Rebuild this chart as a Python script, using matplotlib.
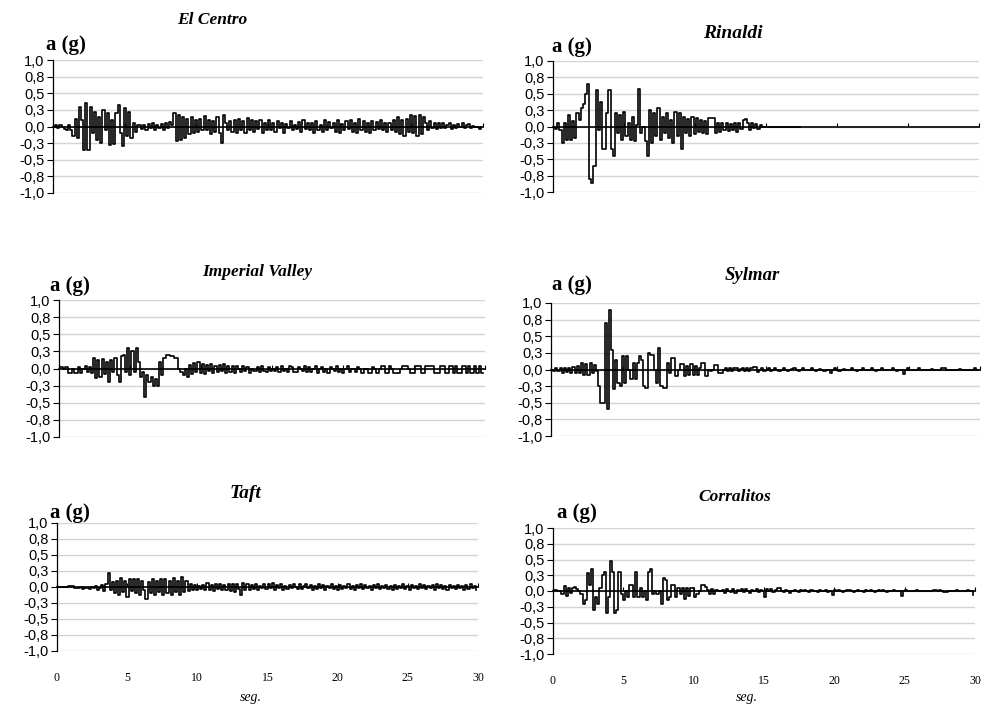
"""Ground-acceleration records (0-30 s) for six stations, drawn as a 3x2 grid of traces."""
import numpy as np
import matplotlib
matplotlib.use("Agg")
import matplotlib.pyplot as plt

W, H = 982, 713          # output size in pixels (dpi 100)
DT = 0.15                # seconds between stored samples

# acceleration in g, one value every DT seconds
EL_CENTRO = [
    0.0, 0.02, -0.02, 0.03, 0.0, -0.04, -0.05, 0.02, -0.06, -0.15,
    0.12, -0.18, 0.3, 0.1, -0.35, 0.36, -0.35, 0.3, -0.1, 0.22,
    -0.2, 0.15, -0.25, 0.25, -0.05, 0.2, -0.28, 0.1, -0.26, 0.2,
    0.33, -0.1, -0.3, 0.28, -0.15, 0.22, -0.18, 0.05, -0.08, 0.03,
    0.02, -0.04, 0.03, -0.05, 0.04, -0.02, 0.05, -0.05, 0.03, -0.03,
    0.04, -0.06, 0.06, -0.02, 0.07, 0.03, 0.2, -0.22, 0.18, -0.2,
    0.15, -0.18, 0.12, -0.12, 0.14, -0.1, 0.1, -0.08, 0.12, -0.06,
    0.16, -0.05, 0.1, -0.12, 0.08, -0.08, 0.15, -0.1, -0.25, 0.17,
    0.05, -0.06, 0.08, -0.08, 0.1, -0.1, 0.12, -0.05, 0.08, -0.1,
    0.13, -0.06, 0.1, -0.08, 0.09, -0.04, 0.1, -0.1, 0.06, -0.05,
    0.1, -0.06, 0.05, -0.08, 0.08, -0.03, 0.05, -0.1, 0.04, -0.02,
    0.08, -0.06, 0.03, -0.04, 0.07, -0.08, 0.1, -0.04, 0.05, -0.06,
    0.06, -0.1, 0.08, -0.05, 0.03, -0.08, 0.1, -0.06, 0.07, -0.03,
    0.05, -0.08, 0.1, -0.1, 0.04, -0.06, 0.08, -0.04, 0.1, -0.08,
    0.05, -0.1, 0.12, -0.05, 0.08, -0.08, 0.06, -0.1, 0.09, -0.05,
    0.07, -0.04, 0.1, -0.06, 0.05, -0.08, 0.06, -0.05, 0.1, -0.08,
    0.15, -0.12, 0.1, -0.14, 0.12, -0.08, 0.18, -0.1, 0.16, -0.15,
    0.18, -0.12, 0.15, 0.05, -0.06, 0.08, -0.03, 0.05, -0.04, 0.06,
    -0.02, 0.05, -0.03, 0.02, 0.06, -0.04, 0.03, -0.02, 0.04, 0.0,
    0.05, -0.03, 0.02, 0.04, -0.02, 0.01, 0.0, 0.0, -0.04, 0.0,
]
RINALDI = [
    0.0, -0.04, 0.05, -0.06, -0.25, 0.05, -0.2, 0.18, -0.2, 0.08,
    -0.18, 0.2, 0.1, 0.28, 0.35, 0.5, 0.65, -0.8, -0.87, -0.6,
    0.55, -0.05, 0.38, -0.35, -0.35, 0.2, 0.55, -0.35, -0.45, 0.2,
    -0.1, 0.18, -0.2, 0.22, -0.15, 0.05, -0.2, 0.15, -0.22, 0.03,
    0.58, -0.1, 0.0, -0.22, -0.45, 0.25, -0.25, 0.2, -0.15, 0.28,
    -0.2, 0.15, -0.1, 0.2, -0.18, 0.1, -0.25, 0.22, -0.15, 0.2,
    -0.35, 0.15, -0.1, 0.12, -0.15, 0.15, -0.12, 0.13, -0.08, 0.1,
    -0.1, 0.08, -0.12, 0.13, 0.13, 0.13, -0.1, 0.05, -0.08, 0.06,
    -0.05, 0.06, -0.07, 0.04, -0.06, 0.05, -0.08, 0.06, -0.04, 0.1,
    0.12, 0.05, -0.05, 0.06, -0.03, 0.04, -0.04, 0.02, 0.0, 0.0,
    0.0, 0.0, 0.0, 0.0, 0.0, 0.0, 0.0, 0.0, 0.0, 0.0,
    0.0, 0.0, 0.0, 0.0, 0.0, 0.0, 0.0,
]
IMPERIAL_VALLEY = [
    0.02, 0.02, 0.0, 0.02, -0.06, -0.06, 0.0, -0.06, -0.06, 0.02,
    -0.06, 0.0, 0.03, -0.05, 0.02, -0.06, 0.15, -0.14, 0.12, -0.12,
    0.14, -0.08, 0.1, -0.2, 0.12, -0.05, 0.15, -0.1, -0.2, 0.18,
    0.2, -0.05, 0.3, -0.1, 0.25, -0.05, 0.3, 0.1, -0.12, -0.05,
    -0.42, -0.1, -0.2, -0.12, -0.25, -0.15, -0.26, 0.1, -0.1, 0.15,
    0.2, 0.2, 0.18, 0.18, 0.15, 0.15, 0.0, -0.05, -0.1, 0.0,
    -0.12, 0.05, -0.08, 0.08, -0.05, 0.1, -0.06, 0.06, -0.08, 0.05,
    -0.04, 0.06, -0.06, 0.04, -0.05, 0.05, -0.03, 0.06, -0.07, 0.03,
    -0.05, 0.04, -0.06, 0.03, 0.0, -0.05, 0.03, -0.04, 0.02, -0.06,
    0.0, -0.04, -0.04, 0.02, -0.05, 0.03, -0.03, -0.05, 0.02, -0.03,
    0.0, -0.04, 0.02, -0.05, 0.04, -0.03, 0.0, -0.05, 0.03, 0.02,
    -0.05, -0.05, 0.02, 0.0, -0.04, 0.03, -0.05, 0.02, -0.05, 0.0,
    0.03, -0.06, 0.0, 0.02, -0.05, 0.0, -0.06, 0.02, 0.0, -0.04,
    0.03, -0.05, 0.0, -0.06, 0.0, 0.03, -0.05, 0.0, 0.0, -0.05,
    0.02, 0.0, -0.06, 0.0, 0.0, -0.06, -0.06, 0.02, 0.0, -0.06,
    0.0, 0.04, 0.04, -0.06, -0.06, 0.03, 0.0, -0.06, -0.06, -0.06,
    0.0, 0.04, 0.04, 0.04, 0.0, -0.07, -0.07, 0.04, 0.04, 0.04,
    -0.07, -0.07, 0.04, 0.04, 0.04, 0.04, -0.07, -0.07, -0.07, 0.04,
    0.04, -0.07, -0.07, 0.04, 0.04, -0.07, 0.04, -0.07, -0.07, 0.04,
    0.04, -0.07, 0.04, -0.07, -0.07, 0.04, -0.07, 0.04, -0.07, -0.07,
]
SYLMAR = [
    0.0, -0.02, 0.02, -0.03, 0.02, -0.05, 0.03, -0.04, 0.02, -0.05,
    0.04, -0.05, 0.05, -0.06, 0.1, -0.08, 0.08, -0.08, 0.1, -0.05,
    0.07, -0.02, -0.25, -0.5, -0.5, 0.7, -0.6, 0.9, 0.3, -0.3,
    0.15, -0.2, -0.25, 0.2, -0.2, 0.2, 0.0, -0.15, 0.1, -0.15,
    0.1, 0.2, 0.15, -0.25, -0.28, 0.25, 0.22, 0.22, 0.0, -0.2,
    0.33, -0.25, -0.28, -0.28, 0.1, -0.05, 0.18, 0.18, -0.1, 0.0,
    0.08, 0.08, -0.1, 0.05, -0.08, 0.08, -0.08, 0.05, -0.08, 0.03,
    0.1, 0.1, -0.1, 0.0, -0.03, 0.0, 0.07, 0.07, -0.05, -0.05,
    0.0, 0.02, -0.03, 0.03, -0.02, 0.03, 0.03, -0.03, 0.01, 0.03,
    -0.02, 0.03, -0.03, 0.02, 0.04, 0.04, -0.04, 0.0, 0.02, -0.02,
    0.0, 0.02, -0.02, 0.0, 0.02, 0.0, -0.02, 0.0, 0.02, 0.0,
    -0.02, 0.0, 0.01, 0.02, 0.0, -0.02, 0.0, 0.02, 0.0, -0.01,
    0.0, 0.02, 0.0, -0.02, 0.0, 0.01, 0.0, -0.02, 0.0, 0.0,
    -0.06, 0.0, 0.02, 0.0, -0.02, 0.0, 0.01, 0.0, -0.01, 0.0,
    0.02, 0.0, -0.02, 0.0, 0.0, 0.02, 0.0, -0.01, 0.0, 0.02,
    0.0, -0.02, 0.0, 0.0, 0.02, 0.0, -0.01, 0.0, 0.0, 0.02,
    0.0, -0.02, 0.0, 0.0, -0.07, 0.0, 0.02, 0.0, -0.01, 0.0,
    0.0, 0.02, 0.0, 0.0, -0.01, 0.0, 0.0, 0.01, 0.0, 0.0,
    0.0, 0.0, 0.02, 0.03, 0.0, 0.0, -0.01, 0.0, 0.0, 0.0,
    0.01, 0.0, 0.0, 0.0, 0.0, -0.01, 0.0, 0.02, 0.0, 0.0,
]
TAFT = [
    0.0, 0.0, 0.0, 0.0, 0.0, 0.02, 0.02, 0.01, -0.02, -0.01,
    -0.02, 0.0, -0.03, -0.01, -0.02, -0.03, 0.0, -0.02, 0.01, -0.04,
    -0.02, 0.03, -0.06, 0.05, 0.22, -0.04, 0.08, -0.1, 0.1, -0.12,
    0.14, -0.08, 0.1, -0.15, 0.12, -0.06, 0.13, -0.1, 0.12, -0.13,
    0.1, -0.05, -0.18, 0.08, -0.1, 0.12, -0.12, 0.1, -0.08, 0.12,
    -0.12, 0.13, -0.1, 0.1, -0.13, 0.14, -0.08, 0.1, -0.12, 0.15,
    -0.08, 0.1, -0.06, 0.05, -0.05, 0.03, -0.04, 0.02, -0.03, 0.03,
    -0.05, 0.06, -0.04, 0.03, -0.06, 0.05, -0.03, 0.04, -0.05, 0.03,
    -0.04, 0.05, -0.06, 0.04, -0.08, 0.05, -0.03, -0.12, 0.06, -0.04,
    0.04, -0.05, 0.03, -0.03, 0.04, -0.04, 0.02, -0.02, 0.05, -0.03,
    0.05, -0.02, 0.07, -0.05, 0.03, -0.02, 0.04, -0.04, 0.02, -0.03,
    0.03, -0.02, 0.05, 0.0, -0.03, 0.04, -0.03, 0.02, 0.05, -0.02,
    0.03, -0.04, 0.02, -0.03, 0.04, -0.02, 0.03, -0.04, 0.02, -0.02,
    0.04, -0.03, 0.02, -0.04, 0.03, -0.03, 0.02, -0.02, 0.04, -0.03,
    0.02, -0.04, 0.03, -0.02, 0.04, -0.03, 0.03, -0.02, 0.02, -0.04,
    0.03, -0.02, 0.04, -0.03, 0.02, -0.02, 0.03, -0.03, 0.02, -0.04,
    0.03, -0.03, 0.02, -0.02, 0.04, -0.03, 0.02, -0.04, 0.03, -0.02,
    0.02, -0.03, 0.04, -0.02, 0.03, -0.03, 0.02, -0.02, 0.03, -0.04,
    0.04, -0.02, 0.03, -0.03, 0.02, -0.04, 0.03, -0.02, 0.02, -0.03,
    0.03, -0.02, 0.02, -0.04, 0.03, -0.03, 0.04, -0.02, 0.02, -0.05,
]
CORRALITOS = [
    0.02, 0.02, 0.0, 0.0, -0.05, 0.08, -0.08, 0.05, -0.03, 0.05,
    0.07, 0.03, 0.0, -0.05, -0.2, -0.15, 0.28, 0.1, 0.35, -0.3,
    -0.1, -0.2, 0.05, 0.25, 0.3, -0.35, -0.1, 0.48, 0.3, -0.35,
    -0.3, 0.3, -0.05, -0.15, 0.0, -0.1, 0.1, 0.1, -0.1, 0.3,
    -0.1, 0.05, -0.1, 0.0, -0.15, 0.3, 0.35, -0.05, 0.0, -0.05,
    0.0, -0.2, 0.2, 0.18, -0.15, -0.1, 0.1, 0.1, -0.1, 0.05,
    -0.05, 0.05, -0.12, 0.05, -0.08, 0.05, 0.05, -0.1, -0.05, 0.0,
    0.1, 0.1, 0.06, 0.02, -0.05, 0.03, -0.05, 0.02, 0.0, 0.0,
    0.02, -0.03, 0.03, 0.0, -0.02, 0.03, -0.03, 0.02, 0.0, 0.03,
    -0.02, 0.03, 0.0, -0.03, 0.02, 0.0, 0.03, -0.02, 0.02, 0.0,
    -0.1, 0.03, 0.0, 0.03, -0.02, 0.02, 0.05, 0.05, 0.0, -0.02,
    0.02, 0.0, -0.03, 0.0, 0.02, 0.0, -0.02, 0.01, 0.0, 0.02,
    0.0, -0.02, 0.02, 0.0, 0.0, -0.02, 0.02, 0.0, 0.0, 0.02,
    -0.02, 0.0, -0.06, 0.02, 0.0, 0.02, 0.0, -0.02, 0.0, 0.02,
    0.02, 0.0, -0.02, 0.0, 0.02, 0.0, 0.0, -0.02, 0.02, 0.0,
    0.02, 0.0, -0.01, 0.0, 0.02, 0.0, 0.02, 0.0, -0.02, 0.0,
    0.0, 0.02, 0.0, 0.0, 0.0, -0.08, 0.0, 0.02, 0.0, 0.0,
    0.0, 0.0, 0.02, 0.0, 0.0, 0.0, 0.0, 0.0, 0.0, 0.0,
    0.02, 0.02, 0.0, 0.02, 0.0, -0.02, -0.02, 0.0, 0.0, 0.0,
    0.0, 0.02, 0.0, 0.0, 0.0, 0.0, 0.02, 0.0, 0.0, -0.06,
]

STATIONS = ["El Centro", "Rinaldi", "Imperial Valley", "Sylmar", "Taft", "Corralitos"]
RECORDS = [EL_CENTRO, RINALDI, IMPERIAL_VALLEY, SYLMAR, TAFT, CORRALITOS]

YTICKS = [-1.0, -0.75, -0.5, -0.25, 0.0, 0.25, 0.5, 0.75, 1.0]
YTICK_LABELS = ["-1,0", "-0,8", "-0,5", "-0,3", "0,0", "0,3", "0,5", "0,8", "1,0"]
XTICKS = [0, 5, 10, 15, 20, 25, 30]

# pixel layout: plot box (left, top, right, bottom), title centre + size, "a (g)" left/centre-y
LAYOUT = {
    "El Centro":       dict(box=(53, 60, 483, 193), title=(212, 20, 12.5), ylab=(46, 45), xlabels=False),
    "Rinaldi":         dict(box=(553, 61, 979, 192), title=(733, 34, 14), ylab=(552, 47), xlabels=False),
    "Imperial Valley": dict(box=(59, 300, 485, 437), title=(257, 272, 12.5), ylab=(50, 286), xlabels=False),
    "Sylmar":          dict(box=(551, 303, 980, 436), title=(752, 275, 13.5), ylab=(552, 285), xlabels=False),
    "Taft":            dict(box=(57, 523, 478, 651), title=(245, 493, 14), ylab=(50, 513), xlabels=True),
    "Corralitos":      dict(box=(553, 528, 975, 654), title=(735, 497, 12.5), ylab=(557, 513), xlabels=True),
}
SERIF = "Liberation Serif"
SANS = "Liberation Sans"


def fx(px):
    return px / W


def fy(py):
    return 1 - py / H


fig = plt.figure(figsize=(W / 100, H / 100), dpi=100)

for name, vals in zip(STATIONS, RECORDS):
    lay = LAYOUT[name]
    l, t, r, b = lay["box"]
    ax = fig.add_axes([fx(l), fy(b), (r - l) / W, (b - t) / H])
    acc = np.asarray(vals)
    time = np.arange(len(acc)) * DT

    # sample-and-hold trace, as the digitised record is stored
    ax.plot(time, acc, color="black", lw=1.2, drawstyle="steps-post", zorder=3)
    ax.set_xlim(0, 30)
    ax.set_ylim(-1, 1)

    ax.set_yticks(YTICKS)
    ax.set_yticklabels(YTICK_LABELS, fontfamily=SANS, fontsize=10.5)
    ax.yaxis.grid(True, color="#d4d4d4", lw=1.0)
    ax.set_axisbelow(True)
    ax.tick_params(axis="y", direction="out", length=4, width=0.8, pad=2)

    ax.spines["top"].set_visible(False)
    ax.spines["right"].set_visible(False)
    ax.spines["left"].set_linewidth(0.9)
    ax.spines["bottom"].set_position(("data", 0))      # time axis crosses at a = 0
    ax.spines["bottom"].set_linewidth(1.2)
    ax.set_xticks(XTICKS)
    ax.tick_params(axis="x", direction="in", length=3, width=0.8, labelbottom=False)

    if lay["xlabels"]:
        # labels sit below the plot box, not on the zero line
        sec = ax.secondary_xaxis("bottom")
        sec.set_xticks(XTICKS)
        sec.set_xticklabels([str(v) for v in XTICKS], fontfamily=SERIF, fontsize=8.5)
        sec.tick_params(length=0, pad=15)
        sec.spines["bottom"].set_visible(False)
        fig.text(fx((l + r) / 2 - 17), fy(697), "seg.", ha="center", va="center",
                 fontfamily=SERIF, fontstyle="italic", fontsize=10)

    tx, ty, ts = lay["title"]
    fig.text(fx(tx), fy(ty), name, ha="center", va="center", fontfamily=SERIF,
             fontweight="bold", fontstyle="italic", fontsize=ts)
    gx, gy = lay["ylab"]
    fig.text(fx(gx), fy(gy), "a (g)", ha="left", va="center", fontfamily=SERIF,
             fontweight="bold", fontsize=15)

fig.savefig("out.png", dpi=100)
